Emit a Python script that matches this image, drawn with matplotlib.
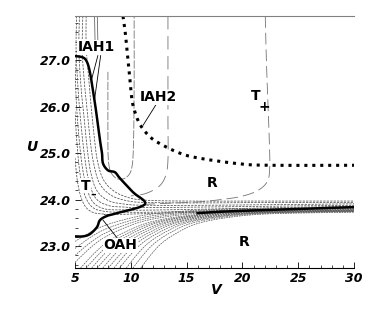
import numpy as np
import matplotlib.pyplot as plt
from matplotlib.ticker import MultipleLocator, FormatStrFormatter

# thick bifurcation curve (IAH1 upper branch, tip, OAH lower branch)
thick_v = [5.0, 5.72, 6.08, 6.34, 6.61, 6.88, 7.24, 7.42, 7.51, 7.96, 8.58, 9.03,
           10.2, 11.27, 8.76, 7.87, 7.24, 6.97, 6.34, 5.72, 5.0]
thick_u = [27.09, 27.06, 26.96, 26.74, 26.35, 25.92, 25.28, 25.0, 24.78, 24.63, 24.59, 24.46,
           24.16, 23.90, 23.71, 23.65, 23.56, 23.41, 23.26, 23.21, 23.21]

# dotted curve (IAH2)
dot_v = [9.30, 9.48, 9.66, 9.93, 10.11, 10.38, 10.82, 11.6, 12.5, 14.4, 16.2, 19.8, 22.5, 30.0]
dot_u = [27.95, 27.65, 27.22, 26.57, 26.14, 25.88, 25.62, 25.38, 25.22, 25.0, 24.89, 24.77, 24.74, 24.74]

# thin arcs in the T- region, they run out to the right as dashed lines
arcs_tminus = [
    [(6.0, 27.95), (6.0, 27.3), (6.2, 26.7), (6.45, 26.0), (6.75, 25.3), (7.0, 24.85), (7.5, 24.45),
     (8.4, 24.2), (9.6, 24.06), (11.2, 23.99), (15, 23.97), (22, 23.97), (30, 23.97)],
    [(5.7, 27.95), (5.65, 27.2), (5.85, 26.5), (6.1, 25.9), (6.4, 25.2), (6.7, 24.75), (7.2, 24.35),
     (8.2, 24.1), (9.6, 23.98), (11.3, 23.94), (16, 23.93), (23, 23.94), (30, 23.94)],
    [(5.4, 27.95), (5.35, 27.2), (5.55, 26.4), (5.8, 25.8), (6.1, 25.1), (6.4, 24.6), (6.95, 24.2),
     (8.0, 23.98), (9.6, 23.9), (11.5, 23.88), (17, 23.88), (30, 23.91)],
    [(5.15, 27.95), (5.1, 27.2), (5.3, 26.3), (5.55, 25.6), (5.85, 24.95), (6.2, 24.45), (6.8, 24.05),
     (7.9, 23.88), (9.5, 23.84), (12, 23.83), (30, 23.88)],
    [(5.0, 27.0), (5.1, 26.2), (5.3, 25.5), (5.6, 24.8), (6.0, 24.3), (6.6, 23.95), (7.7, 23.8),
     (9.5, 23.78), (13, 23.78), (30, 23.86)],
    [(5.0, 25.9), (5.15, 25.3), (5.4, 24.65), (5.8, 24.15), (6.5, 23.85), (7.6, 23.75), (9.5, 23.73),
     (14, 23.74), (30, 23.84)],
    [(5.0, 24.9), (5.25, 24.35), (5.7, 23.95), (6.4, 23.75), (7.6, 23.69), (10, 23.69), (30, 23.83)],
]

# U shaped contours with vertical right arms
u_small = [(7.95, 26.75), (7.95, 25.5), (7.98, 24.9), (8.2, 24.6), (8.8, 24.45), (9.6, 24.48),
           (10.1, 24.7), (10.25, 25.3), (10.3, 26.5), (10.3, 27.95)]
u_mid = [(13.33, 27.95), (13.33, 26.4), (13.33, 25.7), (13.33, 24.85), (13.1, 24.5), (12.5, 24.28),
         (11.3, 24.13), (10.0, 24.08)]
u_tplus = [(22.05, 27.95), (22.15, 27.0), (22.3, 26.0), (22.42, 25.2), (22.45, 24.7), (22.25, 24.4),
           (21.4, 24.2), (19.9, 24.07), (18, 24.0), (16, 23.95), (13, 23.92), (11.3, 23.9)]

# lower fan: start points on the left edge / bottom edge and end level at V=30
fan_start_v = [5.0, 5.0, 5.0, 5.0, 5.5, 6.0, 6.5, 7.0, 7.5, 8.0, 8.5, 9.0, 9.6, 10.2, 10.9]
fan_start_u = [23.1, 22.95, 22.8, 22.65, 22.53, 22.53, 22.53, 22.53, 22.53, 22.53, 22.53, 22.53,
               22.53, 22.53, 22.53]
fan_end_u = [23.83, 23.82, 23.81, 23.8, 23.79, 23.78, 23.78, 23.77, 23.77, 23.76, 23.76, 23.75,
             23.75, 23.74, 23.73]
# shape of one traced fan line (fraction along V, fraction of rise)
fan_shape_s = [0, 0.05, 0.1, 0.17, 0.26, 0.4, 0.6, 1.0]
fan_shape_f = [0, 0.25, 0.45, 0.63, 0.79, 0.9, 0.97, 1.0]

# dark band on the right
band_v = [16, 18, 20, 25, 30]
band_u = [23.71, 23.74, 23.76, 23.8, 23.84]


def smooth(pts, n=10):
    p = np.asarray(pts, dtype=float)
    p = np.vstack([p[0], p, p[-1]])
    out = []
    for i in range(1, len(p) - 2):
        p0, p1, p2, p3 = p[i - 1], p[i], p[i + 1], p[i + 2]
        for t in np.linspace(0, 1, n, endpoint=False):
            t2, t3 = t * t, t * t * t
            out.append(0.5 * ((2 * p1) + (-p0 + p2) * t + (2 * p0 - 5 * p1 + 4 * p2 - p3) * t2
                              + (-p0 + 3 * p1 - 3 * p2 + p3) * t3))
    out.append(p[-2])
    return np.array(out)


fig = plt.figure(figsize=(3.74, 3.16), dpi=100)
ax = fig.add_axes([0.2005, 0.152, 0.746, 0.797])

thin = dict(color='0.3', lw=0.55)

for a in arcs_tminus:
    c = smooth(a)
    ax.plot(c[:, 0], c[:, 1], dashes=(3, 1.5), **thin)

for sv, su, eu in zip(fan_start_v, fan_start_u, fan_end_u):
    s = np.array(fan_shape_s)
    f = np.array(fan_shape_f)
    pts = np.column_stack([sv + s * (30 - sv), su + f * (eu - su)])
    c = smooth(pts)
    ax.plot(c[:, 0], c[:, 1], dashes=(2.5, 1.2), color='0.35', lw=0.5)

c = smooth(u_small)
ax.plot(c[:, 0], c[:, 1], color='0.45', lw=0.6, dashes=(10, 2))
c = smooth(u_mid)
ax.plot(c[:, 0], c[:, 1], color='0.45', lw=0.6, dashes=(16, 8))
c = smooth(u_tplus)
ax.plot(c[:, 0], c[:, 1], color='0.45', lw=0.6, dashes=(14, 6))

ax.plot(band_v, band_u, color='black', lw=1.8)

c = smooth(list(zip(thick_v, thick_u)), n=6)
ax.plot(c[:, 0], c[:, 1], color='black', lw=1.8)
c = smooth(list(zip(dot_v, dot_u)))
ax.plot(c[:, 0], c[:, 1], color='black', lw=2.2, linestyle=(0, (1, 1.6)))

# pointer lines
ax.plot([7.05, 6.5], [27.1, 26.6], color='black', lw=0.6)
ax.plot([7.3, 6.75], [27.1, 26.15], color='black', lw=0.6)
ax.plot([6.75, 6.8], [27.95, 27.4], color='0.4', lw=0.6)
ax.plot([7.0, 7.05], [27.95, 27.4], color='0.4', lw=0.6)
ax.plot([12.35, 11.1], [26.08, 25.6], color='black', lw=0.6)
ax.plot([7.51, 9.1], [23.56, 23.08], color='black', lw=0.6)

lab = dict(fontsize=10, fontweight='bold', ha='center', va='center')
ax.text(6.9, 27.28, 'IAH1', bbox=dict(fc='white', ec='none', pad=0.3), **lab)
ax.text(12.5, 26.2, 'IAH2', bbox=dict(fc='white', ec='none', pad=0.3), **lab)
ax.text(21.2, 26.24, 'T', **lab)
ax.text(22.0, 26.0, '+', fontsize=10, fontweight='bold', ha='center', va='center')
ax.text(5.95, 24.3, 'T', bbox=dict(fc='white', ec='none', pad=0.2), **lab)
ax.text(6.65, 24.1, '\u2013', fontsize=8, fontweight='bold', ha='center', va='center')
ax.text(17.3, 24.35, 'R', **lab)
ax.text(20.2, 23.09, 'R', **lab)
ax.text(9.05, 23.02, 'OAH', bbox=dict(fc='white', ec='none', pad=0.3), **lab)

ax.set_xlim(5, 30)
ax.set_ylim(22.53, 27.95)
ax.xaxis.set_major_locator(MultipleLocator(5))
ax.xaxis.set_minor_locator(MultipleLocator(1))
ax.yaxis.set_major_locator(MultipleLocator(1))
ax.yaxis.set_minor_locator(MultipleLocator(0.2))
ax.yaxis.set_major_formatter(FormatStrFormatter('%.1f'))
ax.tick_params(which='both', direction='in', top=False, right=False)
ax.tick_params(which='major', length=4, width=0.6, pad=3)
ax.tick_params(which='minor', length=2, width=0.5)
for t in ax.get_xticklabels() + ax.get_yticklabels():
    t.set_fontweight('bold')
    t.set_fontstyle('italic')
    t.set_fontsize(9)
ax.spines['right'].set_visible(False)
ax.spines['left'].set_visible(False)
ax.spines['top'].set_color('0.5')
ax.spines['top'].set_linewidth(0.8)
ax.spines['bottom'].set_linewidth(0.8)

ax.text(-0.154, 0.48, 'U', transform=ax.transAxes, fontsize=10, fontweight='bold',
        fontstyle='italic', ha='center', va='center')
ax.text(0.505, -0.087, 'V', transform=ax.transAxes, fontsize=10, fontweight='bold',
        fontstyle='italic', ha='center', va='center')

fig.savefig('out.png', dpi=100)
